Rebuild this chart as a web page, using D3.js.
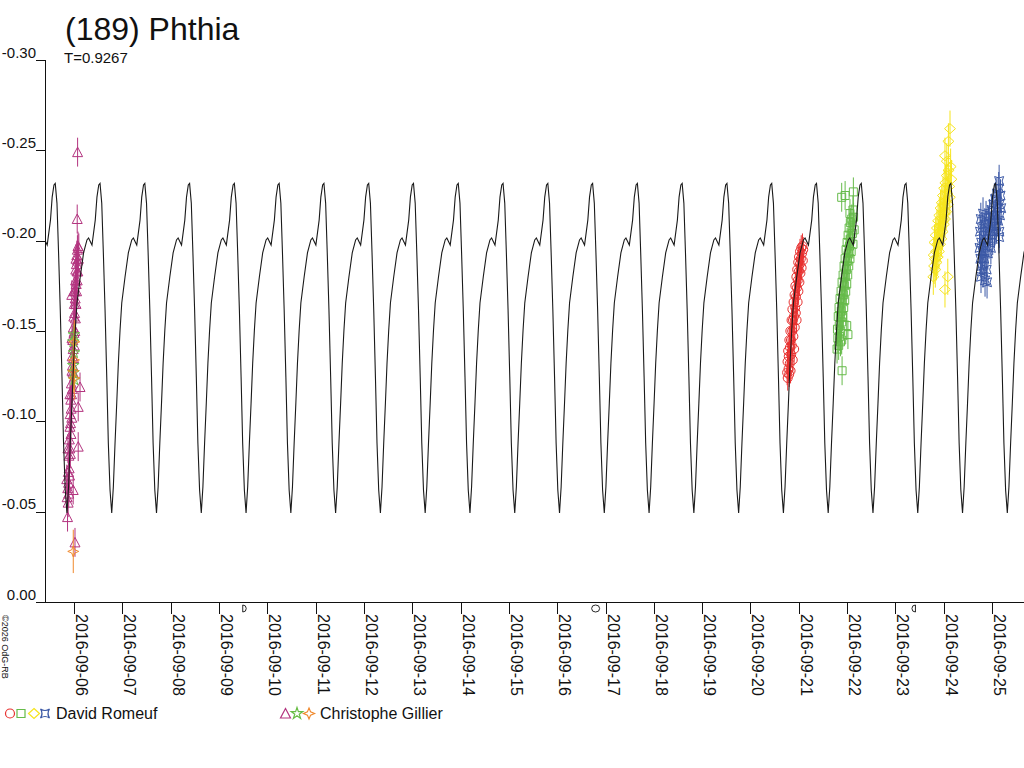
<!DOCTYPE html>
<html>
<head>
<meta charset="utf-8">
<script src="https://cdn.jsdelivr.net/npm/d3@7"></script>
<style>
body { margin: 0; background: #fff; }
svg text { font-family: "Liberation Sans", Arial, sans-serif; fill: #111; }
</style>
</head>
<body>
<div id="holder"></div>
<script>
var width = 1024;
var height = 768;
var plotLeft = 45, plotRight = 1024, plotTop = 60, plotBottom = 602;

var titleText = "(189) Phthia";
var periodText = "T=0.9267";
var copyText = "\u00a92026 OdG-RB";

// period of the model curve (days) and one max
var period = 0.9267;
var epochMax = "2016-09-05T14:42:00Z";
// one cycle of the model lightcurve, phase 0 = maximum
var curvePhase = [0, 0.038, 0.074, 0.112, 0.150, 0.185, 0.223, 0.261, 0.297, 0.335, 0.373,
  0.409, 0.447, 0.485, 0.558, 0.632, 0.708, 0.744, 0.820, 0.893, 0.931, 0.971];
var curveMag = [-0.2317, -0.2208, -0.1932, -0.1616, -0.1245, -0.0880, -0.0620, -0.0493, -0.0637, -0.0880, -0.1101,
  -0.1323, -0.1506, -0.1655, -0.1799, -0.1932, -0.2004, -0.2015, -0.1976, -0.2114, -0.2241, -0.2308];

var yTicks = [0, -0.05, -0.10, -0.15, -0.20, -0.25, -0.30];
var xTicks = ["2016-09-06", "2016-09-07", "2016-09-08", "2016-09-09", "2016-09-10", "2016-09-11", "2016-09-12",
  "2016-09-13", "2016-09-14", "2016-09-15", "2016-09-16", "2016-09-17", "2016-09-18", "2016-09-19",
  "2016-09-20", "2016-09-21", "2016-09-22", "2016-09-23", "2016-09-24", "2016-09-25"];

var moonDates = ["2016-09-09T11:49:00Z", "2016-09-16T19:05:00Z", "2016-09-23T09:56:00Z"];
var moonPhases = ["first", "full", "last"];

var observers = ["David Romeuf", "Christophe Gillier"];

// Christophe Gillier, hours from 2016-09-06 00:00 UT
var gillierTriDate = "2016-09-06";
var gillierTriHours = [-3.4, -3.2, -3.1, -2.9, -2.8, -2.7, -2.5, -2.4, -2.3, -2.1, -2.0, -1.9, -1.7, -1.6, -1.4, -1.3,
  -1.2, -1.0, -0.9, -0.7, -0.6, -0.4, -0.3, -0.1, 0.0, 0.2, 0.3, 0.5, 0.6, 0.8, 0.9, 1.1, 1.2, 1.4, 1.5, 1.7, 1.8, 2.0,
  -2.6, -2.2, -1.8, -1.5, -1.1, -0.8, -0.5, -0.2, 0.1, 0.4, 0.7, 1.0, 1.3, 1.6, 1.9, 2.2, 2.4,
  -3.6, -3.0, -2.0, -1.0, 0.0, 1.0,
  -1.1, 3.0, 2.1, 2.1, -0.4, 1.8, 1.6, 0.5];
var gillierTriMag = [-0.058, -0.047, -0.063, -0.055, -0.072, -0.066, -0.081, -0.074, -0.090, -0.085, -0.097, -0.104,
  -0.099, -0.112, -0.107, -0.121, -0.115, -0.128, -0.136, -0.131, -0.145, -0.140, -0.152, -0.158, -0.149, -0.165,
  -0.160, -0.172, -0.168, -0.178, -0.184, -0.176, -0.187, -0.192, -0.183, -0.195, -0.189, -0.197,
  -0.060, -0.070, -0.082, -0.093, -0.102, -0.118, -0.127, -0.135, -0.142, -0.150, -0.157, -0.165, -0.172, -0.178,
  -0.183, -0.190, -0.196,
  -0.068, -0.085, -0.115, -0.146, -0.172, -0.190,
  -0.170, -0.119, -0.108, -0.086, -0.062, -0.249, -0.212, -0.033];
var gillierTriErr = 0.008;

var gillierStarDate = "2016-09-06";
var gillierStarHours = [-0.35, 0.0, -0.35, 0.15, -0.25, 0.0];
var gillierStarMag = [-0.144, -0.138, -0.131, -0.123, -0.127, -0.148];
var gillierStarErr = 0.006;

var gillierFourDate = "2016-09-06";
var gillierFourHours = [0.15, -0.35, 0.15, -0.35, 0.0];
var gillierFourMag = [-0.144, -0.128, -0.124, -0.028, -0.134];
var gillierFourErr = 0.012;

// David Romeuf
var romeufCircDate = "2016-09-20";
var romeufCircHours = [18.2, 18.4, 18.5, 18.7, 18.9, 19.0, 19.2, 19.3, 19.5, 19.6, 19.8, 19.9, 20.1, 20.2, 20.4,
  20.5, 20.7, 20.8, 21.0, 21.1, 21.3, 21.4, 21.6, 21.7, 21.9, 22.0, 22.2, 22.3, 22.5, 22.6, 22.8, 22.9, 23.1, 23.2,
  23.4, 23.5, 23.7, 23.8, 24.0, 24.1, 24.3, 24.5, 24.6, 24.8, 25.0, 25.2, 25.4, 25.6, 25.8, 26.0, 26.2];
var romeufCircMag = [-0.127, -0.133, -0.124, -0.139, -0.129, -0.136, -0.126, -0.145, -0.132, -0.141, -0.150, -0.128,
  -0.145, -0.137, -0.156, -0.142, -0.150, -0.162, -0.134, -0.156, -0.147, -0.166, -0.158, -0.140, -0.170, -0.152,
  -0.163, -0.175, -0.160, -0.169, -0.180, -0.156, -0.174, -0.184, -0.166, -0.178, -0.188, -0.172, -0.183, -0.191,
  -0.177, -0.187, -0.194, -0.182, -0.190, -0.196, -0.185, -0.193, -0.197, -0.189, -0.195];
var romeufCircErr = 0.007;

var romeufSqDate = "2016-09-21";
var romeufSqHours = [19.0, 19.2, 19.4, 19.6, 19.8, 20.0, 20.1, 20.3, 20.5, 20.6, 20.8, 21.0, 21.1, 21.3, 21.5, 21.6,
  21.8, 22.0, 22.1, 22.3, 22.5, 22.6, 22.8, 23.0, 23.1, 23.3, 23.5, 23.6, 23.8, 24.0, 24.1, 24.3, 24.5, 24.6, 24.8,
  25.0, 25.2, 25.4, 25.6, 25.8, 26.0, 26.3, 26.6, 26.9, 27.2, 27.5,
  21.5, 20.7, 24.4, 23.8, 21.3, 21.3, 23.0, 27.1, 25.4, 26.9];
var romeufSqMag = [-0.140, -0.151, -0.146, -0.158, -0.142, -0.163, -0.153, -0.147, -0.168, -0.158, -0.150, -0.172,
  -0.161, -0.155, -0.177, -0.166, -0.158, -0.181, -0.170, -0.163, -0.186, -0.175, -0.167, -0.190, -0.180, -0.172,
  -0.195, -0.184, -0.176, -0.199, -0.189, -0.181, -0.203, -0.193, -0.186, -0.207, -0.197, -0.190, -0.210, -0.201,
  -0.194, -0.212, -0.204, -0.198, -0.213, -0.206,
  -0.128, -0.144, -0.148, -0.153, -0.145, -0.224, -0.225, -0.227, -0.215, -0.217];
var romeufSqErr = 0.008;

var romeufDiaDate = "2016-09-23";
var romeufDiaHours = [18.8, 19.0, 19.2, 19.4, 19.6, 19.8, 20.0, 20.2, 20.4, 20.6, 20.8, 21.0, 21.2, 21.4, 21.6, 21.8,
  22.0, 22.2, 22.4, 22.6, 22.8, 23.0, 23.2, 23.4, 23.6, 23.8, 24.0, 24.2, 24.4, 24.6, 24.8, 25.0, 25.2, 25.5, 25.8,
  26.1, 26.4, 26.7, 27.0, 27.4, 27.8,
  27.1, 26.3, 24.6, 25.5, 26.0, 24.6];
var romeufDiaMag = [-0.180, -0.192, -0.186, -0.199, -0.190, -0.184, -0.203, -0.194, -0.188, -0.207, -0.198, -0.191,
  -0.211, -0.201, -0.194, -0.214, -0.205, -0.198, -0.218, -0.208, -0.201, -0.221, -0.212, -0.205, -0.225, -0.215,
  -0.209, -0.229, -0.219, -0.212, -0.232, -0.222, -0.216, -0.236, -0.226, -0.220, -0.239, -0.230, -0.224, -0.241,
  -0.234,
  -0.262, -0.255, -0.247, -0.244, -0.180, -0.173];
var romeufDiaErr = 0.01;

var romeufAstDate = "2016-09-24";
var romeufAstHours = [17.8, 18.0, 18.2, 18.4, 18.6, 18.8, 19.0, 19.2, 19.5, 19.8, 20.1, 20.4, 20.7, 21.0, 21.3, 21.6,
  21.9, 22.2, 22.5, 22.8, 23.1, 23.4, 23.7, 24.0, 24.3, 24.6, 24.9, 25.2, 25.5, 25.8, 26.1, 26.4, 26.7, 27.0, 27.3,
  27.6, 27.9, 28.2, 28.5, 18.5, 19.5, 20.5, 27.5, 27.6, 27.5, 21.5];
var romeufAstMag = [-0.196, -0.205, -0.190, -0.212, -0.199, -0.186, -0.207, -0.194, -0.215, -0.201, -0.190, -0.209,
  -0.197, -0.213, -0.184, -0.203, -0.193, -0.210, -0.199, -0.214, -0.205, -0.196, -0.217, -0.208, -0.201, -0.220,
  -0.212, -0.205, -0.223, -0.214, -0.208, -0.226, -0.218, -0.211, -0.229, -0.220, -0.214, -0.225, -0.218,
  -0.180, -0.183, -0.178, -0.233, -0.205, -0.202, -0.177];
var romeufAstErr = 0.009;

var shapes = {
  circle: "M-4.5,0a4.5,4.5 0 1,0 9,0a4.5,4.5 0 1,0 -9,0",
  square: "M-4,-4h8v8h-8z",
  diamond: "M0,-5L5.5,0L0,5L-5.5,0Z",
  astroid: "M-4.5,-4.5Q0,-1.5 4.5,-4.5Q1.5,0 4.5,4.5Q0,1.5 -4.5,4.5Q-1.5,0 -4.5,-4.5Z",
  triangle: "M0,-5L5,4.5H-5Z",
  star5: d3.symbol(d3.symbolStar, 42)(),
  star4: "M0,-5.5L1.6,-1.6L5.5,0L1.6,1.6L0,5.5L-1.6,1.6L-5.5,0L-1.6,-1.6Z"
};

var series = [
  {date: gillierTriDate, hours: gillierTriHours, mag: gillierTriMag, err: gillierTriErr, shape: "triangle", color: "#b3347f"},
  {date: gillierStarDate, hours: gillierStarHours, mag: gillierStarMag, err: gillierStarErr, shape: "star5", color: "#68bd45"},
  {date: gillierFourDate, hours: gillierFourHours, mag: gillierFourMag, err: gillierFourErr, shape: "star4", color: "#f0892d"},
  {date: romeufCircDate, hours: romeufCircHours, mag: romeufCircMag, err: romeufCircErr, shape: "circle", color: "#e8302f"},
  {date: romeufSqDate, hours: romeufSqHours, mag: romeufSqMag, err: romeufSqErr, shape: "square", color: "#66bb4a"},
  {date: romeufDiaDate, hours: romeufDiaHours, mag: romeufDiaMag, err: romeufDiaErr, shape: "diamond", color: "#f6e41c"},
  {date: romeufAstDate, hours: romeufAstHours, mag: romeufAstMag, err: romeufAstErr, shape: "astroid", color: "#3b58a6"}
];

function toDate(day, h) {
  return new Date(Date.parse(day + "T00:00:00Z") + h * 3600e3);
}

var x = d3.scaleUtc()
  .domain([new Date("2016-09-05T09:36:15Z"), new Date("2016-09-25T15:51:00Z")])
  .range([plotLeft, plotRight]);
var y = d3.scaleLinear().domain([0, -0.30]).range([plotBottom, plotTop]);

var svg = d3.select("#holder").append("svg")
  .attr("width", width)
  .attr("height", height)
  .style("display", "block");

svg.append("rect").attr("width", width).attr("height", height).attr("fill", "#fff");

svg.append("defs").append("clipPath").attr("id", "plotclip")
  .append("rect")
  .attr("x", plotLeft).attr("y", 0)
  .attr("width", plotRight - plotLeft).attr("height", plotBottom);

// title
svg.append("text").attr("x", 65).attr("y", 40).style("font-size", "32px").text(titleText);
svg.append("text").attr("x", 64).attr("y", 63).style("font-size", "15px").text(periodText);

// y axis
var yAxis = svg.append("g")
  .attr("transform", "translate(" + plotLeft + ",0)")
  .call(d3.axisLeft(y).tickValues(yTicks).tickSize(9).tickSizeOuter(0).tickFormat(d => d.toFixed(2)));
yAxis.select(".domain").remove();
yAxis.selectAll("line").attr("stroke", "#111").attr("shape-rendering", "crispEdges");
yAxis.selectAll("text")
  .attr("x", -9).attr("dy", null).attr("y", -3)
  .style("font-size", "15px").attr("fill", "#111");
svg.append("line")
  .attr("x1", plotLeft).attr("x2", plotLeft)
  .attr("y1", y(-0.30)).attr("y2", plotBottom)
  .attr("stroke", "#111").attr("shape-rendering", "crispEdges");

// x axis
var xAxis = svg.append("g")
  .attr("transform", "translate(0," + plotBottom + ")")
  .call(d3.axisBottom(x)
    .tickValues(xTicks.map(d => new Date(d + "T00:00:00Z")))
    .tickSize(12).tickSizeOuter(0)
    .tickFormat(d3.utcFormat("%Y-%m-%d")));
xAxis.select(".domain").remove();
xAxis.selectAll("line").attr("stroke", "#111").attr("shape-rendering", "crispEdges");
xAxis.selectAll("text")
  .attr("transform", "rotate(90)")
  .attr("x", 12).attr("y", -1.5).attr("dy", null)
  .attr("text-anchor", "start")
  .style("font-size", "16px").attr("fill", "#111");
svg.append("line")
  .attr("x1", 36).attr("x2", plotRight)
  .attr("y1", plotBottom).attr("y2", plotBottom)
  .attr("stroke", "#111").attr("shape-rendering", "crispEdges");

// moon phases on the time axis
var moonY = 608.5, mr = 3.5;
svg.append("g").selectAll("path")
  .data(moonDates.map((d, i) => ({x: x(new Date(d)), phase: moonPhases[i]})))
  .enter().append("path")
  .attr("fill", "none").attr("stroke", "#111").attr("stroke-width", 0.9)
  .attr("d", function(d) {
    if (d.phase == "full")
      return "M" + (d.x - 4) + "," + moonY + "a4,3.5 0 1,0 8,0a4,3.5 0 1,0 -8,0";
    var sweep = d.phase == "first" ? 1 : 0;
    return "M" + d.x + "," + (moonY - mr) + "A" + mr + "," + mr + " 0 0 " + sweep + " " + d.x + "," + (moonY + mr) + "Z";
  });

// observations
var obs = svg.append("g").attr("clip-path", "url(#plotclip)");
series.forEach(function(s) {
  var pts = s.hours.map((h, i) => ({t: toDate(s.date, h), m: s.mag[i]}));
  var g = obs.append("g");
  g.selectAll("line").data(pts).enter().append("line")
    .attr("x1", d => x(d.t)).attr("x2", d => x(d.t))
    .attr("y1", d => y(d.m - s.err)).attr("y2", d => y(d.m + s.err))
    .attr("stroke", s.color).attr("stroke-width", 1);
  g.selectAll("path").data(pts).enter().append("path")
    .attr("d", shapes[s.shape])
    .attr("transform", d => "translate(" + x(d.t) + "," + y(d.m) + ")")
    .attr("fill", "none").attr("stroke", s.color).attr("stroke-width", 1);
});

// model lightcurve, the measured cycle repeated with period T
var curvePts = [];
var t0 = Date.parse(epochMax);
for (var k = -1; k <= 22; k++) {
  for (var i = 0; i < curvePhase.length; i++) {
    curvePts.push({t: new Date(t0 + (k + curvePhase[i]) * period * 86400e3), m: curveMag[i]});
  }
}
svg.append("path")
  .datum(curvePts)
  .attr("clip-path", "url(#plotclip)")
  .attr("fill", "none")
  .attr("stroke", "#1a1a1a")
  .attr("stroke-width", 1.1)
  .attr("d", d3.line().x(d => x(d.t)).y(d => y(d.m)));

// legend
var legendY = 713.5;
var legendItems = [
  {name: observers[0], textX: 56, marks: [{s: series[3], x: 10}, {s: series[4], x: 21}, {s: series[5], x: 34}, {s: series[6], x: 45}]},
  {name: observers[1], textX: 320, marks: [{s: series[0], x: 285.5}, {s: series[1], x: 297}, {s: series[2], x: 309}]}
];
legendItems.forEach(function(item) {
  var g = svg.append("g");
  g.selectAll("path").data(item.marks).enter().append("path")
    .attr("d", d => shapes[d.s.shape])
    .attr("transform", d => "translate(" + d.x + "," + legendY + ")")
    .attr("fill", "none").attr("stroke", d => d.s.color).attr("stroke-width", 1.2);
  g.append("text").attr("x", item.textX).attr("y", 719).style("font-size", "16px").text(item.name);
});

// copyright, vertical
svg.append("text")
  .attr("transform", "translate(1.5,615) rotate(90)")
  .style("font-size", "9px")
  .text(copyText);
</script>
</body>
</html>
